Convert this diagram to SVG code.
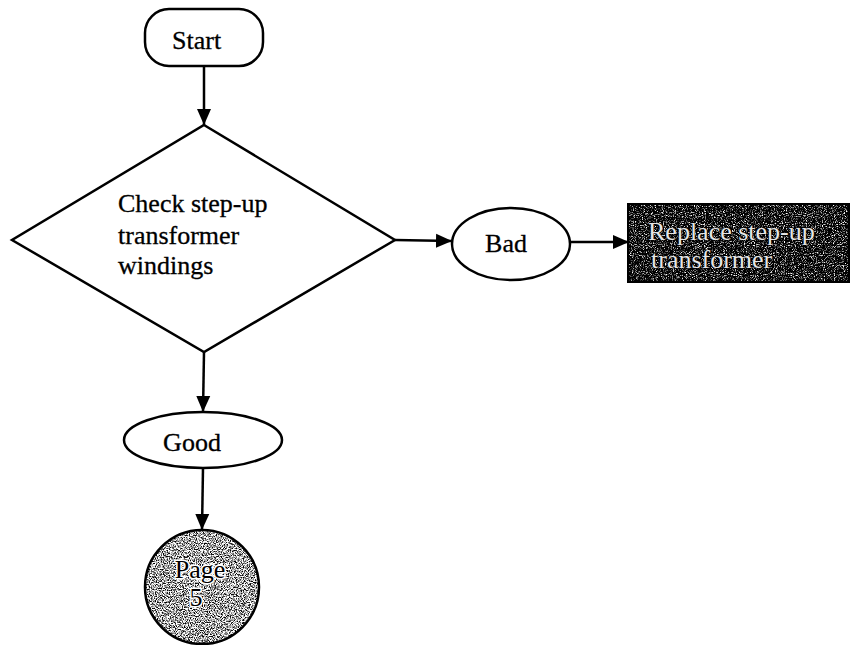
<svg xmlns="http://www.w3.org/2000/svg" width="851" height="645" viewBox="0 0 851 645">
  <style>
    .shape { fill: #ffffff; stroke: #000000; stroke-width: 2.5; }
    .label { font-family: "Liberation Serif", "Times New Roman", serif; font-size: 26px; fill: #000000; stroke: #000000; stroke-width: 0.3; }
    .wire { fill: none; stroke: #000000; stroke-width: 2.5; }
    .outline-text { font-family: "Liberation Serif", "Times New Roman", serif; font-size: 26px; fill: #e6e6e6; stroke: #000000; stroke-width: 1.2; paint-order: stroke; }
    .halo-text { font-family: "Liberation Serif", "Times New Roman", serif; font-size: 26px; fill: #000000; stroke: #ffffff; stroke-width: 3; paint-order: stroke; }
  </style>
  <defs>
    <marker id="arrow" markerUnits="userSpaceOnUse" markerWidth="16" markerHeight="16" viewBox="0 0 16 16" refX="16" refY="8" orient="auto">
      <path d="M0,1 L16,8 L0,15 Z" fill="#000000"/>
    </marker>
    <!-- speckled grey fill for the off-page connector -->
    <filter id="grainGrey" x="0" y="0" width="1" height="1" color-interpolation-filters="sRGB">
      <feTurbulence type="fractalNoise" baseFrequency="0.85" numOctaves="2" seed="7" result="noise"/>
      <feColorMatrix in="noise" type="matrix" values="3.5 0 0 0 -1.1  3.5 0 0 0 -1.1  3.5 0 0 0 -1.1  0 0 0 0 1" result="speck"/>
      <feComposite in="speck" in2="SourceGraphic" operator="in"/>
    </filter>
    <!-- speckled dark fill for the action box -->
    <filter id="grainDark" x="0" y="0" width="1" height="1" color-interpolation-filters="sRGB">
      <feTurbulence type="fractalNoise" baseFrequency="0.9" numOctaves="2" seed="11" result="noise"/>
      <feColorMatrix in="noise" type="matrix" values="3.5 0 0 0 -1.75  3.5 0 0 0 -1.75  3.5 0 0 0 -1.75  0 0 0 0 1" result="speck"/>
      <feComposite in="speck" in2="SourceGraphic" operator="in"/>
    </filter>
  </defs>

  <g id="connectors">
    <line class="wire" x1="204" y1="66" x2="204" y2="125" marker-end="url(#arrow)"/>
    <line class="wire" x1="395" y1="240" x2="452" y2="241" marker-end="url(#arrow)"/>
    <line class="wire" x1="570" y1="242" x2="629" y2="242" marker-end="url(#arrow)"/>
    <line class="wire" x1="204" y1="352" x2="203" y2="412" marker-end="url(#arrow)"/>
    <line class="wire" x1="203" y1="468" x2="202" y2="530" marker-end="url(#arrow)"/>
  </g>

  <g id="start">
    <rect class="shape" x="145" y="9" width="118" height="57" rx="24" ry="24"/>
    <text class="label" x="172" y="49">Start</text>
  </g>

  <g id="check-windings">
    <polygon class="shape" points="204,125 395,240 204,352 12,240"/>
    <text class="label" x="118" y="212">Check step-up</text>
    <text class="label" x="118" y="244">transformer</text>
    <text class="label" x="118" y="274">windings</text>
  </g>

  <g id="bad">
    <ellipse class="shape" cx="511" cy="244" rx="59" ry="36"/>
    <text class="label" x="506" y="252" text-anchor="middle">Bad</text>
  </g>

  <g id="replace-transformer">
    <rect x="628" y="204" width="221" height="78" fill="#000000" filter="url(#grainDark)"/>
    <rect x="628" y="204" width="221" height="78" fill="none" stroke="#000000" stroke-width="2"/>
    <text class="outline-text" x="648" y="240">Replace step-up</text>
    <text class="outline-text" x="651" y="268">transformer</text>
  </g>

  <g id="good">
    <ellipse class="shape" cx="203" cy="440" rx="79" ry="28"/>
    <text class="label" x="192" y="451" text-anchor="middle">Good</text>
  </g>

  <g id="page-5">
    <circle cx="202" cy="587" r="57" fill="#000000" filter="url(#grainGrey)"/>
    <circle cx="202" cy="587" r="57" fill="none" stroke="#000000" stroke-width="2.5"/>
    <text class="halo-text" x="200" y="578" text-anchor="middle">Page</text>
    <text class="halo-text" x="196" y="606" text-anchor="middle">5</text>
  </g>
</svg>
